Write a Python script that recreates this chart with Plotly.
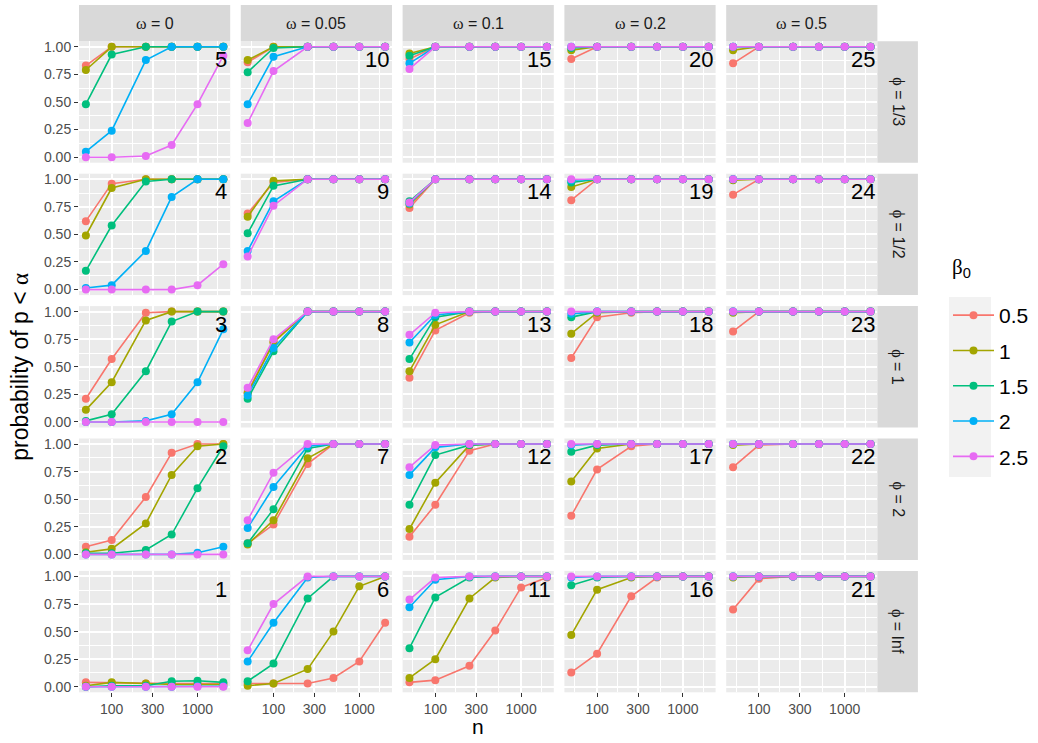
import numpy as np
import plotly.graph_objects as go

# ---------------- data ----------------
n_values = [50, 100, 250, 500, 1000, 2000]
beta_labels = ["0.5", "1", "1.5", "2", "2.5"]
colors = ["#F8766D", "#A3A500", "#00BF7D", "#00B0F6", "#E76BF3"]
omega_labels = ["0", "0.05", "0.1", "0.2", "0.5"]
phi_labels = ["1/3", "1/2", "1", "2", "Inf"]          # top row -> bottom row
x_tick_vals = [100, 300, 1000]
x_tick_text = ["100", "300", "1000"]
y_tick_vals = [0, 0.25, 0.5, 0.75, 1.0]
y_tick_text = ["0.00", "0.25", "0.50", "0.75", "1.00"]

# each panel: series for beta0 = 0.5, 1, 1.5, 2, 2.5
panel_01 = [[0.04, 0.035, 0.03, 0.03, 0.03, 0.03],
            [0.01, 0.04, 0.03, 0.02, 0.02, 0.02],
            [0.00, 0.01, 0.01, 0.05, 0.055, 0.04],
            [0.00, 0.00, 0.00, 0.00, 0.005, 0.005],
            [0.00, 0.00, 0.00, 0.00, 0.00, 0.00]]
panel_02 = [[0.07, 0.13, 0.52, 0.92, 1.00, 1.00],
            [0.02, 0.05, 0.28, 0.72, 0.98, 1.00],
            [0.01, 0.01, 0.04, 0.18, 0.60, 0.98],
            [0.00, 0.00, 0.00, 0.00, 0.015, 0.07],
            [0.00, 0.00, 0.00, 0.00, 0.00, 0.00]]
panel_03 = [[0.21, 0.57, 0.99, 1.00, 1.00, 1.00],
            [0.11, 0.36, 0.92, 1.00, 1.00, 1.00],
            [0.01, 0.07, 0.46, 0.91, 1.00, 1.00],
            [0.00, 0.00, 0.01, 0.07, 0.36, 0.84],
            [0.00, 0.00, 0.00, 0.00, 0.00, 0.00]]
panel_04 = [[0.62, 0.96, 1.00, 1.00, 1.00, 1.00],
            [0.49, 0.92, 1.00, 1.00, 1.00, 1.00],
            [0.17, 0.58, 0.98, 1.00, 1.00, 1.00],
            [0.015, 0.04, 0.35, 0.84, 1.00, 1.00],
            [0.00, 0.00, 0.00, 0.00, 0.04, 0.23]]
panel_05 = [[0.83, 1.00, 1.00, 1.00, 1.00, 1.00],
            [0.79, 1.00, 1.00, 1.00, 1.00, 1.00],
            [0.48, 0.93, 1.00, 1.00, 1.00, 1.00],
            [0.05, 0.24, 0.88, 1.00, 1.00, 1.00],
            [0.00, 0.00, 0.01, 0.11, 0.48, 0.92]]
panel_06 = [[0.03, 0.03, 0.03, 0.08, 0.23, 0.58],
            [0.01, 0.03, 0.16, 0.50, 0.91, 1.00],
            [0.05, 0.21, 0.80, 1.00, 1.00, 1.00],
            [0.23, 0.58, 0.99, 1.00, 1.00, 1.00],
            [0.33, 0.75, 1.00, 1.00, 1.00, 1.00]]
panel_07 = [[0.10, 0.27, 0.82, 1.00, 1.00, 1.00],
            [0.09, 0.31, 0.87, 1.00, 1.00, 1.00],
            [0.10, 0.41, 0.96, 1.00, 1.00, 1.00],
            [0.24, 0.61, 0.98, 1.00, 1.00, 1.00],
            [0.31, 0.74, 1.00, 1.00, 1.00, 1.00]]
panel_08 = [[0.27, 0.73, 1.00, 1.00, 1.00, 1.00],
            [0.26, 0.72, 1.00, 1.00, 1.00, 1.00],
            [0.21, 0.64, 1.00, 1.00, 1.00, 1.00],
            [0.24, 0.67, 1.00, 1.00, 1.00, 1.00],
            [0.31, 0.75, 1.00, 1.00, 1.00, 1.00]]
panel_09 = [[0.69, 0.97, 1.00, 1.00, 1.00, 1.00],
            [0.66, 0.985, 1.00, 1.00, 1.00, 1.00],
            [0.51, 0.94, 1.00, 1.00, 1.00, 1.00],
            [0.35, 0.80, 1.00, 1.00, 1.00, 1.00],
            [0.30, 0.76, 1.00, 1.00, 1.00, 1.00]]
panel_10 = [[0.86, 1.00, 1.00, 1.00, 1.00, 1.00],
            [0.88, 1.00, 1.00, 1.00, 1.00, 1.00],
            [0.77, 0.99, 1.00, 1.00, 1.00, 1.00],
            [0.48, 0.91, 1.00, 1.00, 1.00, 1.00],
            [0.31, 0.78, 1.00, 1.00, 1.00, 1.00]]
panel_11 = [[0.04, 0.06, 0.19, 0.51, 0.90, 0.99],
            [0.08, 0.25, 0.80, 0.99, 1.00, 1.00],
            [0.35, 0.81, 0.99, 1.00, 1.00, 1.00],
            [0.72, 0.97, 1.00, 1.00, 1.00, 1.00],
            [0.79, 0.99, 1.00, 1.00, 1.00, 1.00]]
panel_12 = [[0.16, 0.45, 0.94, 1.00, 1.00, 1.00],
            [0.23, 0.65, 0.99, 1.00, 1.00, 1.00],
            [0.45, 0.90, 0.99, 1.00, 1.00, 1.00],
            [0.72, 0.97, 1.00, 1.00, 1.00, 1.00],
            [0.79, 0.99, 1.00, 1.00, 1.00, 1.00]]
panel_13 = [[0.40, 0.83, 0.99, 1.00, 1.00, 1.00],
            [0.46, 0.88, 1.00, 1.00, 1.00, 1.00],
            [0.57, 0.95, 1.00, 1.00, 1.00, 1.00],
            [0.72, 0.97, 1.00, 1.00, 1.00, 1.00],
            [0.79, 0.99, 1.00, 1.00, 1.00, 1.00]]
panel_14 = [[0.74, 1.00, 1.00, 1.00, 1.00, 1.00],
            [0.77, 1.00, 1.00, 1.00, 1.00, 1.00],
            [0.80, 1.00, 1.00, 1.00, 1.00, 1.00],
            [0.78, 1.00, 1.00, 1.00, 1.00, 1.00],
            [0.79, 1.00, 1.00, 1.00, 1.00, 1.00]]
panel_15 = [[0.89, 1.00, 1.00, 1.00, 1.00, 1.00],
            [0.94, 1.00, 1.00, 1.00, 1.00, 1.00],
            [0.92, 1.00, 1.00, 1.00, 1.00, 1.00],
            [0.85, 1.00, 1.00, 1.00, 1.00, 1.00],
            [0.80, 1.00, 1.00, 1.00, 1.00, 1.00]]
panel_16 = [[0.13, 0.30, 0.82, 0.99, 1.00, 1.00],
            [0.47, 0.88, 0.99, 1.00, 1.00, 1.00],
            [0.92, 0.99, 1.00, 1.00, 1.00, 1.00],
            [0.99, 1.00, 1.00, 1.00, 1.00, 1.00],
            [1.00, 1.00, 1.00, 1.00, 1.00, 1.00]]
panel_17 = [[0.35, 0.77, 0.98, 1.00, 1.00, 1.00],
            [0.66, 0.96, 1.00, 1.00, 1.00, 1.00],
            [0.93, 0.99, 1.00, 1.00, 1.00, 1.00],
            [0.99, 1.00, 1.00, 1.00, 1.00, 1.00],
            [1.00, 1.00, 1.00, 1.00, 1.00, 1.00]]
panel_18 = [[0.58, 0.95, 0.99, 1.00, 1.00, 1.00],
            [0.80, 0.99, 1.00, 1.00, 1.00, 1.00],
            [0.95, 1.00, 1.00, 1.00, 1.00, 1.00],
            [0.98, 1.00, 1.00, 1.00, 1.00, 1.00],
            [1.00, 1.00, 1.00, 1.00, 1.00, 1.00]]
panel_19 = [[0.81, 1.00, 1.00, 1.00, 1.00, 1.00],
            [0.93, 1.00, 1.00, 1.00, 1.00, 1.00],
            [0.97, 1.00, 1.00, 1.00, 1.00, 1.00],
            [0.99, 1.00, 1.00, 1.00, 1.00, 1.00],
            [1.00, 1.00, 1.00, 1.00, 1.00, 1.00]]
panel_20 = [[0.89, 1.00, 1.00, 1.00, 1.00, 1.00],
            [0.97, 1.00, 1.00, 1.00, 1.00, 1.00],
            [0.99, 1.00, 1.00, 1.00, 1.00, 1.00],
            [1.00, 1.00, 1.00, 1.00, 1.00, 1.00],
            [1.00, 1.00, 1.00, 1.00, 1.00, 1.00]]
panel_21 = [[0.70, 0.98, 1.00, 1.00, 1.00, 1.00],
            [0.99, 1.00, 1.00, 1.00, 1.00, 1.00],
            [1.00, 1.00, 1.00, 1.00, 1.00, 1.00],
            [1.00, 1.00, 1.00, 1.00, 1.00, 1.00],
            [1.00, 1.00, 1.00, 1.00, 1.00, 1.00]]
panel_22 = [[0.79, 0.99, 1.00, 1.00, 1.00, 1.00],
            [0.99, 1.00, 1.00, 1.00, 1.00, 1.00],
            [1.00, 1.00, 1.00, 1.00, 1.00, 1.00],
            [1.00, 1.00, 1.00, 1.00, 1.00, 1.00],
            [1.00, 1.00, 1.00, 1.00, 1.00, 1.00]]
panel_23 = [[0.82, 1.00, 1.00, 1.00, 1.00, 1.00],
            [0.99, 1.00, 1.00, 1.00, 1.00, 1.00],
            [1.00, 1.00, 1.00, 1.00, 1.00, 1.00],
            [1.00, 1.00, 1.00, 1.00, 1.00, 1.00],
            [1.00, 1.00, 1.00, 1.00, 1.00, 1.00]]
panel_24 = [[0.86, 1.00, 1.00, 1.00, 1.00, 1.00],
            [0.99, 1.00, 1.00, 1.00, 1.00, 1.00],
            [1.00, 1.00, 1.00, 1.00, 1.00, 1.00],
            [1.00, 1.00, 1.00, 1.00, 1.00, 1.00],
            [1.00, 1.00, 1.00, 1.00, 1.00, 1.00]]
panel_25 = [[0.85, 1.00, 1.00, 1.00, 1.00, 1.00],
            [0.97, 1.00, 1.00, 1.00, 1.00, 1.00],
            [1.00, 1.00, 1.00, 1.00, 1.00, 1.00],
            [1.00, 1.00, 1.00, 1.00, 1.00, 1.00],
            [1.00, 1.00, 1.00, 1.00, 1.00, 1.00]]

panels = [panel_01, panel_02, panel_03, panel_04, panel_05,
          panel_06, panel_07, panel_08, panel_09, panel_10,
          panel_11, panel_12, panel_13, panel_14, panel_15,
          panel_16, panel_17, panel_18, panel_19, panel_20,
          panel_21, panel_22, panel_23, panel_24, panel_25]

# ---------------- layout geometry (pixels) ----------------
W, H = 1038, 743
col_left0, col_pitch, panel_w = 79.0, 161.8, 151.2
row_top0, row_pitch, panel_h = 41.3, 132.4, 121.4
strip_top = 5.0
strip_right_w = 40.5

FONT = "Liberation Sans, Arial, Helvetica, sans-serif"
SERIF = "Liberation Serif"

lx = np.log10(n_values)
span = lx.max() - lx.min()
x_range = [lx.min() - 0.05 * span, lx.max() + 0.05 * span]
x_minor = [10 ** ((np.log10(a) + np.log10(b)) / 2)
           for a, b in zip([30] + x_tick_vals, x_tick_vals + [3000])]
y_minor = [(a + b) / 2 for a, b in zip(y_tick_vals[:-1], y_tick_vals[1:])]


def serif(ch):
    return "<span style='font-family:" + SERIF + "'>" + ch + "</span>"


fig = go.Figure()
layout = dict(
    width=W, height=H,
    margin=dict(l=0, r=0, t=0, b=0),
    paper_bgcolor="white",
    plot_bgcolor="#EBEBEB",
    font=dict(family=FONT, color="#1A1A1A"),
    showlegend=True,
)
shapes = []
annotations = []

for k in range(1, 26):
    c = (k - 1) // 5
    r = 4 - (k - 1) % 5          # row index from top
    L = col_left0 + c * col_pitch
    T = row_top0 + r * row_pitch
    sfx = "" if k == 1 else str(k)
    bottom = (r == 4)
    left = (c == 0)
    layout["xaxis" + sfx] = dict(
        domain=[L / W, (L + panel_w) / W], anchor="y" + sfx,
        type="log", range=x_range,
        tickmode="array", tickvals=x_tick_vals, ticktext=x_tick_text,
        showticklabels=bottom, ticks="outside" if bottom else "",
        ticklen=4, tickwidth=1, tickcolor="#333333",
        tickfont=dict(size=14, color="#4D4D4D", family=FONT),
        showgrid=True, gridcolor="white", gridwidth=1.8,
        minor=dict(tickmode="array", tickvals=x_minor, showgrid=True,
                   gridcolor="white", gridwidth=0.9, ticks=""),
        zeroline=False, showline=False, fixedrange=True, automargin=False,
    )
    layout["yaxis" + sfx] = dict(
        domain=[1 - (T + panel_h) / H, 1 - T / H], anchor="x" + sfx,
        range=[-0.05, 1.05],
        tickmode="array", tickvals=y_tick_vals, ticktext=y_tick_text,
        showticklabels=left, ticks="outside" if left else "",
        ticklen=4, tickwidth=1, tickcolor="#333333",
        tickfont=dict(size=14, color="#4D4D4D", family=FONT),
        showgrid=True, gridcolor="white", gridwidth=1.8,
        minor=dict(tickmode="array", tickvals=y_minor, showgrid=True,
                   gridcolor="white", gridwidth=0.9, ticks=""),
        zeroline=False, showline=False, fixedrange=True, automargin=False,
    )
    for j, series in enumerate(panels[k - 1]):
        fig.add_trace(go.Scatter(
            x=n_values, y=series, xaxis="x" + sfx, yaxis="y" + sfx,
            mode="lines+markers", name=beta_labels[j],
            legendgroup=beta_labels[j], showlegend=(k == 1),
            line=dict(color=colors[j], width=1.6),
            marker=dict(color=colors[j], size=8),
            hoverinfo="skip",
        ))
    annotations.append(dict(
        xref="x" + sfx + " domain", yref="y" + sfx + " domain",
        x=0.995, y=0.85, xanchor="right", yanchor="middle",
        text=str(k), showarrow=False,
        font=dict(size=22, color="black", family=FONT),
    ))

# top strips (omega)
for c, lab in enumerate(omega_labels):
    L = col_left0 + c * col_pitch
    shapes.append(dict(type="rect", xref="paper", yref="paper",
                       x0=L / W, x1=(L + panel_w) / W,
                       y0=1 - row_top0 / H, y1=1 - strip_top / H,
                       fillcolor="#D9D9D9", line=dict(width=0), layer="below"))
    annotations.append(dict(
        xref="paper", yref="paper", x=(L + panel_w / 2) / W,
        y=1 - (strip_top + row_top0) / 2 / H, xanchor="center", yanchor="middle",
        text=serif("ω") + " = " + lab,
        showarrow=False, font=dict(size=16, color="#1A1A1A", family=FONT)))

# right strips (phi)
right_x0 = col_left0 + 4 * col_pitch + panel_w
for r, lab in enumerate(phi_labels):
    T = row_top0 + r * row_pitch
    shapes.append(dict(type="rect", xref="paper", yref="paper",
                       x0=right_x0 / W, x1=(right_x0 + strip_right_w) / W,
                       y0=1 - (T + panel_h) / H, y1=1 - T / H,
                       fillcolor="#D9D9D9", line=dict(width=0), layer="below"))
    annotations.append(dict(
        xref="paper", yref="paper", x=(right_x0 + strip_right_w / 2) / W,
        y=1 - (T + panel_h / 2) / H, xanchor="center", yanchor="middle",
        text=serif("ϕ") + " = " + lab,
        textangle=90, showarrow=False,
        font=dict(size=16, color="#1A1A1A", family=FONT)))

# axis titles
grid_left = col_left0
grid_right = col_left0 + 4 * col_pitch + panel_w
grid_top = row_top0
grid_bottom = row_top0 + 4 * row_pitch + panel_h
annotations.append(dict(
    xref="paper", yref="paper", x=20 / W, y=1 - (grid_top + grid_bottom) / 2 / H,
    xanchor="center", yanchor="middle", textangle=-90, showarrow=False,
    text="probability of p < " + serif("α"),
    font=dict(size=23, color="black", family=FONT)))
annotations.append(dict(
    xref="paper", yref="paper", x=(grid_left + grid_right) / 2 / W, y=1 - 726 / H,
    xanchor="center", yanchor="middle", showarrow=False, text="n",
    font=dict(size=21, color="black", family=FONT)))

# legend title
annotations.append(dict(
    xref="paper", yref="paper", x=950 / W, y=1 - 268 / H,
    xanchor="left", yanchor="middle", showarrow=False,
    text=serif("β") + "<sub>0</sub>",
    font=dict(size=21, color="black", family=FONT)))

# legend key background
shapes.append(dict(type="rect", xref="paper", yref="paper",
                   x0=949 / W, x1=991 / W, y0=1 - 477 / H, y1=1 - 297 / H,
                   fillcolor="#F2F2F2", line=dict(width=0), layer="below"))

layout["shapes"] = shapes
layout["annotations"] = annotations
layout["legend"] = dict(
    x=948 / W, y=1 - 295 / H, xanchor="left", yanchor="top",
    bgcolor="rgba(0,0,0,0)", borderwidth=0,
    font=dict(size=21, color="black", family=FONT),
    tracegroupgap=5, itemwidth=41,
    traceorder="grouped",
)
fig.update_layout(**layout)
fig.write_html("out.html", config={"displayModeBar": False},
               post_script="document.body.style.margin='0px';")
